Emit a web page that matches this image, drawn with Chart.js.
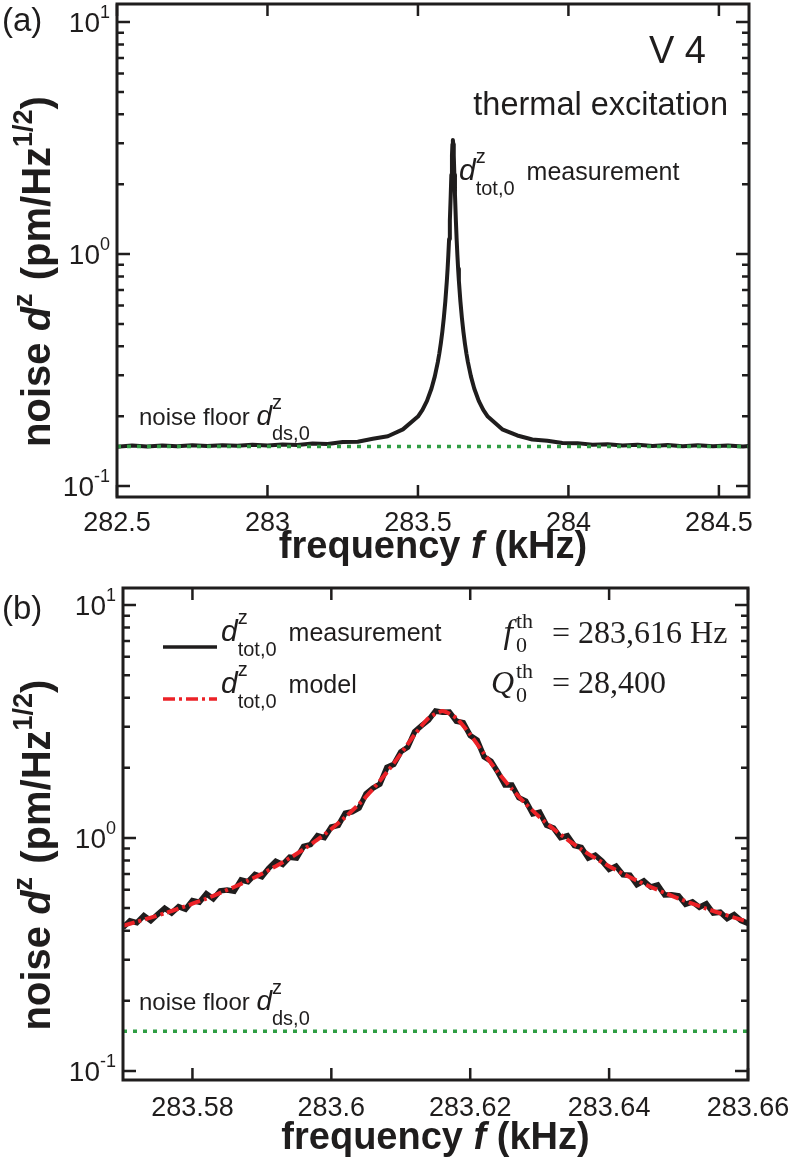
<!DOCTYPE html>
<html><head><meta charset="utf-8">
<script src="https://cdn.jsdelivr.net/npm/chart.js@4.4.1/dist/chart.umd.min.js"></script>
<style>
html,body{margin:0;padding:0;background:#fff;}
#wrap{position:relative;width:793px;height:1158px;overflow:hidden;}
canvas{position:absolute;left:0;}
#ca{top:0;} #cb{top:572px;}
</style></head><body>
<div id="wrap"><canvas id="ca" width="793" height="572"></canvas><canvas id="cb" width="793" height="586"></canvas></div>
<script>
// ---------------- data: panel (a) ----------------
const freqA = [282.50, 282.55, 282.60, 282.65, 282.70, 282.75, 282.80, 282.85, 282.90, 282.95,
  283.00, 283.05, 283.10, 283.15, 283.20, 283.25, 283.30, 283.35, 283.40, 283.45,
  283.50, 283.515, 283.53, 283.545, 283.556, 283.566, 283.571, 283.576, 283.581, 283.586,
  283.591, 283.596, 283.5985, 283.601, 283.6035, 283.606, 283.609, 283.611, 283.613, 283.6145,
  283.616,
  283.6175, 283.619, 283.621, 283.623, 283.626, 283.6285, 283.631, 283.6335, 283.636, 283.641,
  283.646, 283.651, 283.656, 283.661, 283.666, 283.676, 283.687, 283.702, 283.717, 283.732,
  283.78, 283.83, 283.88, 283.93, 283.98, 284.03, 284.08, 284.13, 284.18, 284.23,
  284.28, 284.33, 284.38, 284.43, 284.48, 284.53, 284.58, 284.60];
const measA = [0.1478, 0.1495, 0.1480, 0.1497, 0.1484, 0.1498, 0.1487, 0.1500, 0.1490, 0.1505,
  0.1494, 0.1512, 0.1502, 0.1524, 0.1518, 0.1548, 0.1553, 0.1598, 0.1640, 0.1755,
  0.1993, 0.2130, 0.2329, 0.2633, 0.2970, 0.342, 0.3726, 0.412, 0.4627, 0.531,
  0.626, 0.766, 0.864, 0.991, 1.161, 1.394, 1.808, 2.197, 2.662, 2.973,
  3.104,
  2.973, 2.662, 2.197, 1.808, 1.394, 1.161, 0.991, 0.864, 0.766, 0.626,
  0.531, 0.4627, 0.412, 0.3726, 0.342, 0.2970, 0.2633, 0.2329, 0.2130, 0.1993,
  0.1756, 0.1652, 0.1588, 0.1566, 0.1534, 0.1531, 0.1508, 0.1514, 0.1496, 0.1506,
  0.1489, 0.1502, 0.1486, 0.1498, 0.1483, 0.1495, 0.1481, 0.1490];
const floorFreqA = [282.5, 284.6];
const floorA = [0.148, 0.148];
const xTicksA = [282.5, 283, 283.5, 284, 284.5];
const xLabelsA = ['282.5', '283', '283.5', '284', '284.5'];
const xRangeA = [282.5, 284.6];
const yRangeA = [0.0897, 11.96];

// ---------------- data: panel (b) ----------------
const freqB = [283.570, 283.571, 283.572, 283.573, 283.574, 283.575, 283.576, 283.577, 283.578, 283.579,
  283.580, 283.581, 283.582, 283.583, 283.584, 283.585, 283.586, 283.587, 283.588, 283.589,
  283.590, 283.591, 283.592, 283.593, 283.594, 283.595, 283.596, 283.597, 283.598, 283.599,
  283.600, 283.601, 283.602, 283.603, 283.604, 283.605, 283.606, 283.607, 283.608, 283.609,
  283.610, 283.611, 283.612, 283.613, 283.614, 283.615, 283.616, 283.617, 283.618, 283.619,
  283.620, 283.621, 283.622, 283.623, 283.624, 283.625, 283.626, 283.627, 283.628, 283.629,
  283.630, 283.631, 283.632, 283.633, 283.634, 283.635, 283.636, 283.637, 283.638, 283.639,
  283.640, 283.641, 283.642, 283.643, 283.644, 283.645, 283.646, 283.647, 283.648, 283.649,
  283.650, 283.651, 283.652, 283.653, 283.654, 283.655, 283.656, 283.657, 283.658, 283.659,
  283.660];
const measB = [0.412, 0.441, 0.433, 0.464, 0.441, 0.470, 0.499, 0.476, 0.507, 0.494,
  0.538, 0.530, 0.576, 0.548, 0.593, 0.598, 0.591, 0.660, 0.649, 0.698,
  0.681, 0.743, 0.794, 0.770, 0.827, 0.820, 0.920, 0.936, 1.022, 1.003,
  1.114, 1.133, 1.277, 1.295, 1.343, 1.548, 1.638, 1.704, 2.009, 2.071,
  2.343, 2.451, 2.861, 3.035, 3.205, 3.509, 3.468, 3.474, 3.172, 3.126,
  2.750, 2.628, 2.228, 2.134, 1.913, 1.687, 1.687, 1.488, 1.441, 1.269,
  1.289, 1.133, 1.103, 1.003, 1.022, 0.927, 0.911, 0.820, 0.844, 0.794,
  0.733, 0.757, 0.695, 0.692, 0.630, 0.654, 0.616, 0.628, 0.569, 0.571,
  0.565, 0.519, 0.532, 0.504, 0.522, 0.476, 0.480, 0.451, 0.469, 0.442,
  0.430];
const freqBm = [283.570, 283.572, 283.574, 283.576, 283.578, 283.580, 283.582, 283.584, 283.586, 283.588,
  283.590, 283.592, 283.594, 283.596, 283.598, 283.600, 283.602, 283.604, 283.606, 283.608,
  283.610, 283.612, 283.614, 283.616, 283.618, 283.620, 283.622, 283.624, 283.626, 283.628,
  283.630, 283.632, 283.634, 283.636, 283.638, 283.640, 283.642, 283.644, 283.646, 283.648,
  283.650, 283.652, 283.654, 283.656, 283.658, 283.660];
const modelB = [0.420, 0.437, 0.455, 0.475, 0.497, 0.522, 0.549, 0.581, 0.616, 0.656,
  0.702, 0.756, 0.819, 0.893, 0.983, 1.092, 1.228, 1.399, 1.622, 1.913,
  2.297, 2.778, 3.270, 3.503, 3.270, 2.778, 2.297, 1.913, 1.622, 1.399,
  1.228, 1.092, 0.983, 0.893, 0.819, 0.756, 0.702, 0.656, 0.616, 0.581,
  0.549, 0.522, 0.497, 0.475, 0.455, 0.437];
const floorFreqB = [283.57, 283.66];
const floorB = [0.148, 0.148];
const xTicksB = [283.58, 283.60, 283.62, 283.64, 283.66];
const xLabelsB = ['283.58', '283.6', '283.62', '283.64', '283.66'];
const xRangeB = [283.57, 283.66];
const yRangeB = [0.0914, 11.83];

// shared y ticks
const yMajor = [0.1, 1, 10];
const yExp = ['-1', '0', '1'];
const yMinor = [0.2, 0.3, 0.4, 0.5, 0.6, 0.7, 0.8, 0.9, 2, 3, 4, 5, 6, 7, 8, 9];

// ---------------- style ----------------
const INK = '#1f1d1d';
const GREEN = '#2f9e44';
const RED = '#ec2227';
const SANS = '"Liberation Sans", Arial, Helvetica, sans-serif';
const SERIF = '"Liberation Serif", "Times New Roman", serif';

function pts(xs, ys) { return xs.map((x, i) => ({ x: x, y: ys[i] })); }

function rich(ctx, x, y, runs, align, rot) {
  ctx.save();
  ctx.translate(x, y);
  if (rot) ctx.rotate(rot);
  ctx.textAlign = 'left'; ctx.textBaseline = 'alphabetic'; ctx.fillStyle = INK;
  const ws = runs.map(r => {
    ctx.font = r.f;
    const parts = r.s ? r.s : [r.t];
    return Math.max.apply(null, parts.map(p => ctx.measureText(p).width)) + (r.g || 0);
  });
  const W = ws.reduce((s, v) => s + v, 0);
  let cx = align === 'right' ? -W : align === 'center' ? -W / 2 : 0;
  runs.forEach((r, i) => {
    ctx.font = r.f;
    if (r.s) { ctx.fillText(r.s[0], cx, r.dy[0]); ctx.fillText(r.s[1], cx, r.dy[1]); }
    else ctx.fillText(r.t, cx, r.dy || 0);
    cx += ws[i];
  });
  ctx.restore();
}

function yTitle(ctx, x, y) {
  rich(ctx, x, y, [
    { t: 'noise ', f: `bold 40px ${SANS}` },
    { t: 'd', f: `bold italic 40px ${SANS}` },
    { t: 'z', f: `bold 27px ${SANS}`, dy: -18, g: 2 },
    { t: ' (pm/Hz', f: `bold 40px ${SANS}` },
    { t: '1/2', f: `bold 27px ${SANS}`, dy: -18 },
    { t: ')', f: `bold 40px ${SANS}` }
  ], 'center', -Math.PI / 2);
}
function xTitle(ctx, x, y) {
  rich(ctx, x, y, [
    { t: 'frequency ', f: `bold 38px ${SANS}` },
    { t: 'f', f: `bold italic 38px ${SANS}` },
    { t: ' (kHz)', f: `bold 38px ${SANS}` }
  ], 'center');
}

function framePlugin(cfg) {
  return {
    id: 'frame' + cfg.name,
    afterDatasetsDraw(chart) {
      const ctx = chart.ctx, a = chart.chartArea, xs = chart.scales.x, ys = chart.scales.y;
      ctx.save();
      ctx.strokeStyle = INK; ctx.lineWidth = 2.5; ctx.lineCap = 'butt';
      ctx.beginPath();
      cfg.xTicks.forEach(v => {
        const px = xs.getPixelForValue(v);
        ctx.moveTo(px, a.bottom); ctx.lineTo(px, a.bottom - 12);
        ctx.moveTo(px, a.top); ctx.lineTo(px, a.top + 12);
      });
      yMajor.forEach(v => {
        const py = ys.getPixelForValue(v);
        if (py < a.top || py > a.bottom) return;
        ctx.moveTo(a.left, py); ctx.lineTo(a.left + 13, py);
        ctx.moveTo(a.right, py); ctx.lineTo(a.right - 13, py);
      });
      yMinor.forEach(v => {
        const py = ys.getPixelForValue(v);
        if (py < a.top || py > a.bottom) return;
        ctx.moveTo(a.left, py); ctx.lineTo(a.left + 7, py);
        ctx.moveTo(a.right, py); ctx.lineTo(a.right - 7, py);
      });
      ctx.stroke();
      ctx.lineWidth = 3;
      ctx.strokeRect(a.left, a.top, a.right - a.left, a.bottom - a.top);
      // x tick labels
      ctx.fillStyle = INK; ctx.textAlign = 'center'; ctx.textBaseline = 'alphabetic';
      ctx.font = `27px ${SANS}`;
      cfg.xTicks.forEach((v, i) => ctx.fillText(cfg.xLabels[i], xs.getPixelForValue(v), a.bottom + cfg.tickOff));
      // y tick labels
      yMajor.forEach((v, i) => {
        const py = ys.getPixelForValue(v);
        rich(ctx, a.left - 7, py + 10, [
          { t: '10', f: `28px ${SANS}` },
          { t: yExp[i], f: `18px ${SANS}`, dy: -14 }
        ], 'right');
      });
      // titles
      xTitle(ctx, (a.left + a.right) / 2, a.bottom + cfg.titleOff);
      yTitle(ctx, 50, (a.top + a.bottom) / 2 + 21);
      cfg.extra(ctx, chart);
      ctx.restore();
    }
  };
}

function baseOptions(xr, yr, yw, xh, pad) {
  return {
    responsive: false, animation: false, devicePixelRatio: 1, events: [],
    layout: { padding: pad },
    plugins: { legend: { display: false }, tooltip: { enabled: false } },
    scales: {
      x: {
        type: 'linear', min: xr[0], max: xr[1],
        grid: { display: false, drawTicks: false }, border: { display: false },
        ticks: { display: false },
        afterFit: s => { s.height = xh; }
      },
      y: {
        type: 'logarithmic', min: yr[0], max: yr[1],
        grid: { display: false, drawTicks: false }, border: { display: false },
        ticks: { display: false },
        afterFit: s => { s.width = yw; }
      }
    }
  };
}

// ---------------- chart (a) ----------------
// note: Chart.js paints dataset 0 last (on top)
const optA = baseOptions(xRangeA, yRangeA, 117, 75, { top: 4, right: 44, left: 0, bottom: 0 });
optA.scales.x.afterBuildTicks = s => { s.ticks = xTicksA.map(v => ({ value: v })); };
new Chart(document.getElementById('ca'), {
  type: 'line',
  data: {
    datasets: [
      { label: 'noise floor', data: pts(floorFreqA, floorA), borderColor: GREEN, borderWidth: 3.5, borderDash: [4, 6], pointRadius: 0 },
      { label: 'measurement', data: pts(freqA, measA), borderColor: INK, borderWidth: 4, pointRadius: 0, tension: 0, borderJoinStyle: 'round' }
    ]
  },
  options: optA,
  plugins: [framePlugin({
    name: 'A', xTicks: xTicksA, xLabels: xLabelsA, tickOff: 34, titleOff: 61,
    extra(ctx) {
      rich(ctx, 2, 31, [{ t: '(a)', f: `33px ${SANS}` }], 'left');
      rich(ctx, 706, 63, [{ t: 'V 4', f: `38px ${SANS}` }], 'right');
      rich(ctx, 728, 115, [{ t: 'thermal excitation', f: `32.5px ${SANS}` }], 'right');
      rich(ctx, 459, 180, [
        { t: 'd', f: `italic 30px ${SANS}` },
        { s: ['z', 'tot,0'], f: `20px ${SANS}`, dy: [-17, 15], g: 12 },
        { t: 'measurement', f: `25px ${SANS}` }
      ], 'left');
      rich(ctx, 139, 425, [
        { t: 'noise floor ', f: `24px ${SANS}` },
        { t: 'd', f: `italic 28px ${SANS}` },
        { s: ['z', 'ds,0'], f: `20px ${SANS}`, dy: [-16, 15] }
      ], 'left');
    }
  })]
});

// ---------------- chart (b) ----------------
const optB = baseOptions(xRangeB, yRangeB, 123, 78, { top: 16, right: 45, left: 0, bottom: 0 });
optB.scales.x.afterBuildTicks = s => { s.ticks = xTicksB.map(v => ({ value: v })); };
new Chart(document.getElementById('cb'), {
  type: 'line',
  data: {
    datasets: [
      { label: 'noise floor', data: pts(floorFreqB, floorB), borderColor: GREEN, borderWidth: 3.5, borderDash: [4, 6], pointRadius: 0 },
      { label: 'model', data: pts(freqBm, modelB), borderColor: RED, borderWidth: 4, borderDash: [12, 4, 3, 4], pointRadius: 0, tension: 0.2 },
      { label: 'measurement', data: pts(freqB, measB), borderColor: INK, borderWidth: 5.5, pointRadius: 0, tension: 0, borderJoinStyle: 'miter' }
    ]
  },
  options: optB,
  plugins: [framePlugin({
    name: 'B', xTicks: xTicksB, xLabels: xLabelsB, tickOff: 36, titleOff: 69,
    extra(ctx, chart) {
      rich(ctx, 2, 47, [{ t: '(b)', f: `33px ${SANS}` }], 'left');
      const meas = chart.data.datasets[2], model = chart.data.datasets[1];
      // legend
      ctx.save();
      ctx.lineWidth = 3.5; ctx.strokeStyle = meas.borderColor;
      ctx.beginPath(); ctx.moveTo(163, 75); ctx.lineTo(217, 75); ctx.stroke();
      ctx.strokeStyle = model.borderColor; ctx.setLineDash(model.borderDash);
      ctx.beginPath(); ctx.moveTo(163, 127); ctx.lineTo(217, 127); ctx.stroke();
      ctx.restore();
      rich(ctx, 221, 69, [
        { t: 'd', f: `italic 30px ${SANS}` },
        { s: ['z', 'tot,0'], f: `20px ${SANS}`, dy: [-17, 15], g: 12 },
        { t: meas.label, f: `25px ${SANS}` }
      ], 'left');
      rich(ctx, 221, 121, [
        { t: 'd', f: `italic 30px ${SANS}` },
        { s: ['z', 'tot,0'], f: `20px ${SANS}`, dy: [-17, 15], g: 12 },
        { t: model.label, f: `25px ${SANS}` }
      ], 'left');
      // fit results
      rich(ctx, 513, 71, [{ t: 'f', f: `italic 34px ${SERIF}` }], 'right');
      rich(ctx, 516, 71, [{ s: ['th', '0'], f: `22px ${SERIF}`, dy: [-15, 9] }], 'left');
      rich(ctx, 552, 71, [{ t: '= 283,616 Hz', f: `32px ${SERIF}` }], 'left');
      rich(ctx, 514, 121, [{ t: 'Q', f: `italic 32px ${SERIF}` }], 'right');
      rich(ctx, 516, 121, [{ s: ['th', '0'], f: `22px ${SERIF}`, dy: [-15, 9] }], 'left');
      rich(ctx, 552, 121, [{ t: '= 28,400', f: `32px ${SERIF}` }], 'left');
      rich(ctx, 139, 438, [
        { t: 'noise floor ', f: `24px ${SANS}` },
        { t: 'd', f: `italic 28px ${SANS}` },
        { s: ['z', 'ds,0'], f: `20px ${SANS}`, dy: [-16, 15] }
      ], 'left');
    }
  })]
});
</script>
</body></html>
